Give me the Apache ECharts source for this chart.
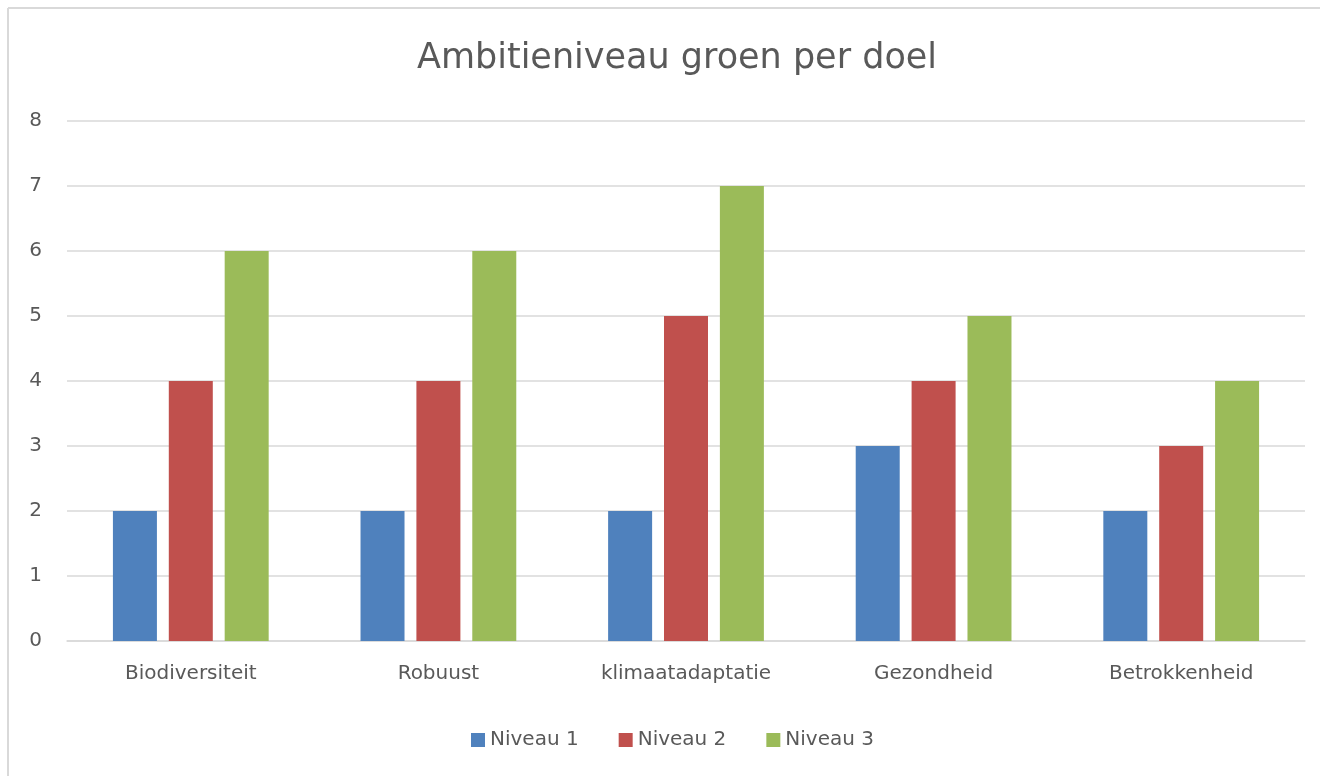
<!DOCTYPE html>
<html>
<head>
<meta charset="utf-8">
<script src="https://cdn.jsdelivr.net/npm/echarts@6/dist/echarts.min.js"></script>
<style>
html,body{margin:0;padding:0;background:#fff;}
#chart{width:1320px;height:776px;}
</style>
</head>
<body>
<div id="chart"></div>
<script>
const categories = ['Biodiversiteit', 'Robuust', 'klimaatadaptatie', 'Gezondheid', 'Betrokkenheid'];
const seriesNames = ['Niveau 1', 'Niveau 2', 'Niveau 3'];
const niveau1 = [2, 2, 2, 3, 2];
const niveau2 = [4, 4, 5, 4, 3];
const niveau3 = [6, 6, 7, 5, 4];
const colors = ['#4f81bd', '#c0504d', '#9bbb59'];
const font = 'DejaVu Sans, sans-serif';

const chart = echarts.init(document.getElementById('chart'), null, {renderer: 'canvas'});
const dataSets = [niveau1, niveau2, niveau3];
chart.setOption({
  animation: false,
  color: colors,
  graphic: [
    {type: 'line', shape: {x1: 8, y1: 8, x2: 1320, y2: 8}, style: {stroke: '#d9d9d9', lineWidth: 2}},
    {type: 'line', shape: {x1: 8, y1: 8, x2: 8, y2: 776}, style: {stroke: '#d9d9d9', lineWidth: 2}}
  ],
  title: {
    text: 'Ambitieniveau groen per doel',
    left: 672, top: 36, textAlign: 'center',
    textStyle: {fontFamily: font, fontSize: 35, fontWeight: 'normal', color: '#595959'}
  },
  legend: {
    data: seriesNames,
    left: 466, top: 725,
    icon: 'rect', itemWidth: 14, itemHeight: 14, itemGap: 40,
    textStyle: {fontFamily: font, fontSize: 20, color: '#595959'}
  },
  grid: {left: 67, right: 15, top: 121, bottom: 135, containLabel: false},
  xAxis: {
    type: 'category', data: categories,
    axisLine: {lineStyle: {color: '#d9d9d9', width: 1.5}},
    axisTick: {show: false},
    axisLabel: {fontFamily: font, fontSize: 20, color: '#595959', margin: 23}
  },
  yAxis: {
    type: 'value', min: 0, max: 8, interval: 1,
    axisLine: {show: false}, axisTick: {show: false},
    splitLine: {lineStyle: {color: '#d9d9d9', width: 1.5}},
    axisLabel: {fontFamily: font, fontSize: 20, color: '#595959', margin: 25}
  },
  series: seriesNames.map((n, i) => ({
    name: n, type: 'bar', data: dataSets[i],
    barWidth: 44, barGap: '27%',
    itemStyle: {color: colors[i]}
  }))
});
</script>
</body>
</html>
